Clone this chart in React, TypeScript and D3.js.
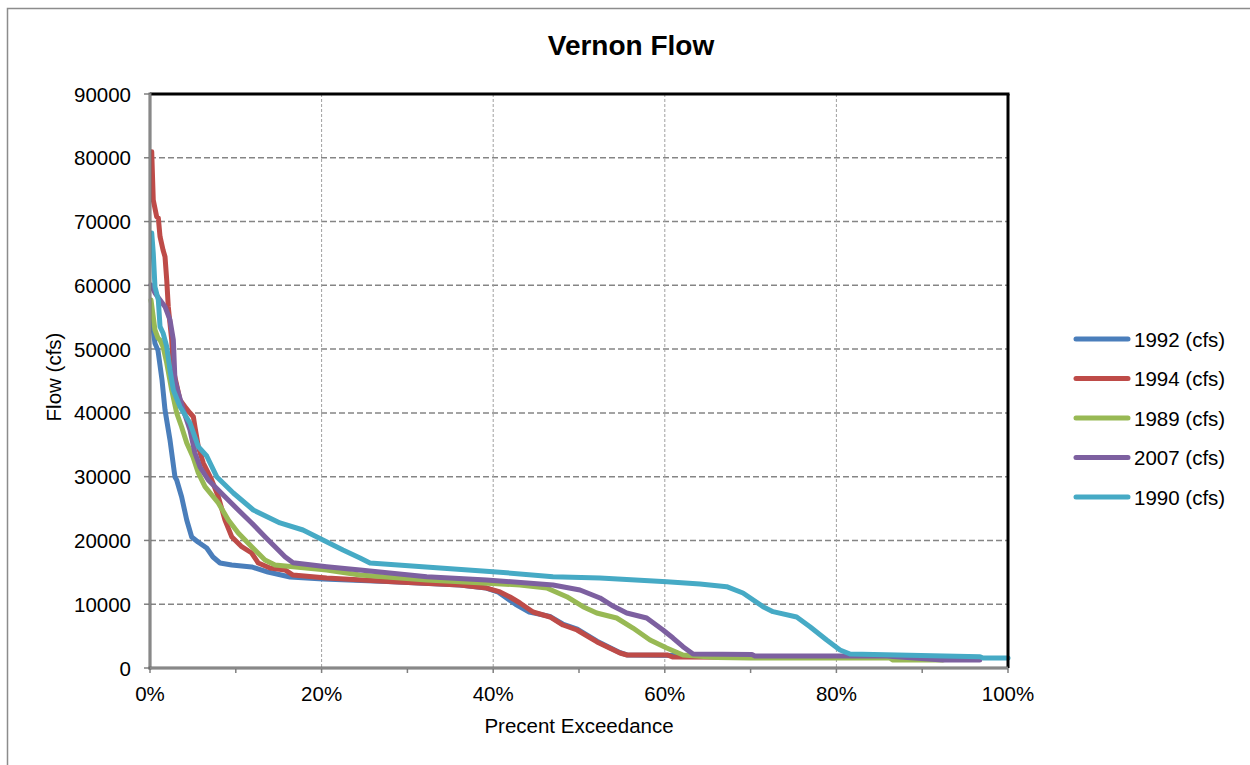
import React from "react";
import * as d3 from "d3";

const title = "Vernon Flow";
const xTitle = "Precent Exceedance";
const yTitle = "Flow (cfs)";
const yTicks = [0, 10000, 20000, 30000, 40000, 50000, 60000, 70000, 80000, 90000];
const xLabelTicks = [0, 20, 40, 60, 80, 100];
const xMinorTicks = [0, 10, 20, 30, 40, 50, 60, 70, 80, 90, 100];

const seriesNames = ["1992 (cfs)", "1994 (cfs)", "1989 (cfs)", "2007 (cfs)", "1990 (cfs)"];
const seriesColors = ["#4A7EBB", "#BE4B48", "#98B954", "#7D60A0", "#46AAC5"];

// [percent exceedance, flow]
const flow1992: [number, number][] = [
  [0.2, 55000], [0.58, 50900], [0.93, 49800], [1.4, 45160], [1.75, 40450], [2.33, 35750],
  [2.91, 29950], [3.11, 29480], [3.69, 26820], [4.28, 23200], [4.86, 20540], [5.59, 19760],
  [6.61, 18820], [7.34, 17400], [8.16, 16460], [9.52, 16150], [11.85, 15840], [13.75, 15050],
  [16.32, 14270], [20.16, 13960], [28.3, 13530], [36.1, 13010], [39.2, 12540], [40.6, 11900],
  [42.6, 10000], [44.2, 8780], [46.6, 8100], [48.1, 6900], [49.8, 6100], [52.1, 4200],
  [54.8, 2400], [55.6, 2040], [62.0, 1950],
];
const flow1994: [number, number][] = [
  [0.2, 80960], [0.38, 73380], [0.78, 70760], [0.97, 70560], [1.17, 67630], [1.52, 65540],
  [1.75, 64490], [1.95, 60840], [2.13, 56650], [2.53, 51430], [2.72, 46730], [3.5, 42020],
  [4.08, 40970], [4.66, 39980], [5.05, 39400], [5.24, 37790], [5.63, 34700], [6.21, 32140],
  [7.19, 29480], [7.96, 26860], [8.74, 23210], [9.52, 20590], [10.69, 19020], [11.85, 18030],
  [12.62, 16460], [13.99, 15680], [15.73, 15370], [16.67, 14580], [20.59, 14110], [28.32, 13530],
  [36.13, 13010], [39.24, 12540], [40.79, 11920], [41.96, 11130], [43.12, 10190], [44.64, 8780],
  [46.62, 8000], [48.14, 6740], [49.77, 5960], [52.1, 4080], [54.78, 2350], [55.59, 2040],
  [60.26, 2040], [60.96, 1720], [69.0, 1700],
];
const flow1989: [number, number][] = [
  [0.12, 57700], [0.58, 53000], [0.93, 51740], [1.17, 51430], [1.52, 50380], [1.95, 47820],
  [2.53, 43590], [3.11, 39980], [3.69, 37790], [4.28, 35280], [5.01, 33080], [5.63, 30580],
  [6.41, 28430], [7.96, 25870], [9.13, 23210], [10.29, 21170], [11.85, 19020], [13.4, 16930],
  [14.57, 16150], [16.67, 15880], [20.59, 15370], [24.48, 14580], [32.25, 13800], [36.13, 13530],
  [43.12, 13010], [46.24, 12540], [48.57, 11180], [50.47, 9610], [52.06, 8620], [54.39, 7840],
  [56.29, 6270], [58.28, 4390], [60.22, 3140], [62.12, 2040], [66.08, 1650], [69.93, 1570],
  [86.25, 1550], [86.6, 1250], [92.4, 1250],
];
const flow2007: [number, number][] = [
  [0.12, 60050], [0.58, 58800], [1.17, 57700], [1.75, 56650], [2.33, 54570], [2.72, 51430],
  [2.91, 45160], [3.3, 43120], [3.88, 40450], [4.66, 37320], [5.24, 33710], [5.83, 31520],
  [6.79, 29480], [8.74, 26860], [10.29, 24770], [11.85, 22740], [13.4, 20590], [14.95, 18500],
  [15.73, 17450], [16.67, 16510], [20.59, 15880], [24.48, 15370], [32.25, 14320], [39.24, 13800],
  [46.97, 13010], [50.12, 12230], [52.45, 10980], [53.96, 9720], [55.56, 8620], [57.89, 7840],
  [59.79, 5960], [60.96, 4700], [62.12, 3340], [63.29, 2200], [70.16, 2120], [70.5, 1900],
  [85.9, 1880], [86.6, 1800], [92.4, 1250], [96.7, 1250],
];
const flow1990: [number, number][] = [
  [0.2, 68210], [0.38, 65070], [0.58, 59740], [0.97, 57700], [1.17, 53520], [1.52, 52530],
  [1.95, 50380], [2.33, 46730], [2.72, 43590], [3.5, 40970], [4.66, 38420], [5.63, 34700],
  [6.61, 33240], [7.77, 30000], [9.71, 27440], [12.04, 24770], [15.15, 22740], [17.83, 21640],
  [20.16, 20070], [22.49, 18500], [24.48, 17250], [25.64, 16460], [33.8, 15680], [39.98, 15100],
  [46.97, 14320], [52.45, 14110], [60.22, 13530], [64.1, 13170], [67.21, 12750], [69.11, 11760],
  [71.45, 9610], [72.61, 8830], [75.37, 8000], [76.92, 6480], [78.87, 4390], [80.42, 2820],
  [81.59, 2200], [96.74, 1770], [97.09, 1570], [100, 1570],
];
const allSeries = [flow1992, flow1994, flow1989, flow2007, flow1990];

const FONT = "'Liberation Sans', Arial, sans-serif";
const FS = 20.5;

export default function App() {
  const left = 150, right = 1008, top = 94, bottom = 668;
  const x = d3.scaleLinear().domain([0, 100]).range([left, right]);
  const y = d3.scaleLinear().domain([0, 90000]).range([bottom, top]);
  const line = d3
    .line<[number, number]>()
    .x((d) => x(d[0]))
    .y((d) => y(d[1]))
    .curve(d3.curveLinear);

  return (
    <svg
      width={1250}
      height={765}
      style={{ position: "absolute", left: 0, top: 0, background: "#fff" }}
      fontFamily={FONT}
    >
      <rect x={0} y={0} width={1250} height={765} fill="#fff" />
      <rect x={7.5} y={8.5} width={1260} height={780} fill="none" stroke="#8c8c8c" strokeWidth={1.5} />
      <text x={631} y={55} textAnchor="middle" fontSize={28} fontWeight="bold" fill="#000">
        {title}
      </text>

      {/* horizontal gridlines */}
      {yTicks.filter((t) => t > 0 && t < 90000).map((t) => (
        <line key={"hg" + t} x1={left} x2={right} y1={y(t)} y2={y(t)} stroke="#858585" strokeWidth={1.5} strokeDasharray="6,3" />
      ))}
      {/* vertical gridlines */}
      {xLabelTicks.filter((t) => t > 0 && t < 100).map((t) => (
        <line key={"vg" + t} x1={x(t)} x2={x(t)} y1={top} y2={bottom} stroke="#a0a0a0" strokeWidth={1} strokeDasharray="3,2" />
      ))}

      {/* y ticks */}
      {yTicks.map((t) => (
        <g key={"yt" + t}>
          <line x1={left - 6} x2={left} y1={y(t)} y2={y(t)} stroke="#808080" strokeWidth={1.5} />
          <text x={131} y={y(t) + 7.5} textAnchor="end" fontSize={FS} fill="#000">
            {t}
          </text>
        </g>
      ))}
      {/* x ticks */}
      {xMinorTicks.map((t) => (
        <line key={"xt" + t} x1={x(t)} x2={x(t)} y1={bottom} y2={bottom + 5} stroke="#808080" strokeWidth={1.5} />
      ))}
      {xLabelTicks.map((t) => (
        <text key={"xl" + t} x={x(t)} y={701} textAnchor="middle" fontSize={FS} fill="#000">
          {t + "%"}
        </text>
      ))}

      {/* series */}
      {allSeries.map((s, i) => (
        <path
          key={"s" + i}
          d={line(s) || ""}
          fill="none"
          stroke={seriesColors[i]}
          strokeWidth={5}
          strokeLinejoin="round"
          strokeLinecap="round"
        />
      ))}

      {/* frame */}
      <line x1={left} x2={right + 1.5} y1={top} y2={top} stroke="#000" strokeWidth={3} />
      <line x1={right} x2={right} y1={top} y2={bottom} stroke="#000" strokeWidth={3} />
      <line x1={left} x2={left} y1={top - 1.5} y2={bottom + 1.5} stroke="#6e6e6e" strokeWidth={3} />
      <line x1={left} x2={left} y1={top} y2={bottom} stroke="#b0b0b0" strokeWidth={0.8} />
      <line x1={left - 1.5} x2={right} y1={bottom} y2={bottom} stroke="#6e6e6e" strokeWidth={3} />
      <line x1={left} x2={right} y1={bottom} y2={bottom} stroke="#b0b0b0" strokeWidth={0.8} />

      {/* axis titles */}
      <text x={579} y={733} textAnchor="middle" fontSize={FS} fill="#000">
        {xTitle}
      </text>
      <text transform={`translate(61,377) rotate(-90)`} textAnchor="middle" fontSize={FS} fill="#000">
        {yTitle}
      </text>

      {/* legend */}
      {seriesNames.map((n, i) => {
        const ly = 339 + i * 39.5;
        return (
          <g key={"lg" + i}>
            <line x1={1076} x2={1128} y1={ly} y2={ly} stroke={seriesColors[i]} strokeWidth={5} strokeLinecap="round" />
            <text x={1134} y={ly + 7.5} fontSize={FS} fill="#000">
              {n}
            </text>
          </g>
        );
      })}
    </svg>
  );
}
